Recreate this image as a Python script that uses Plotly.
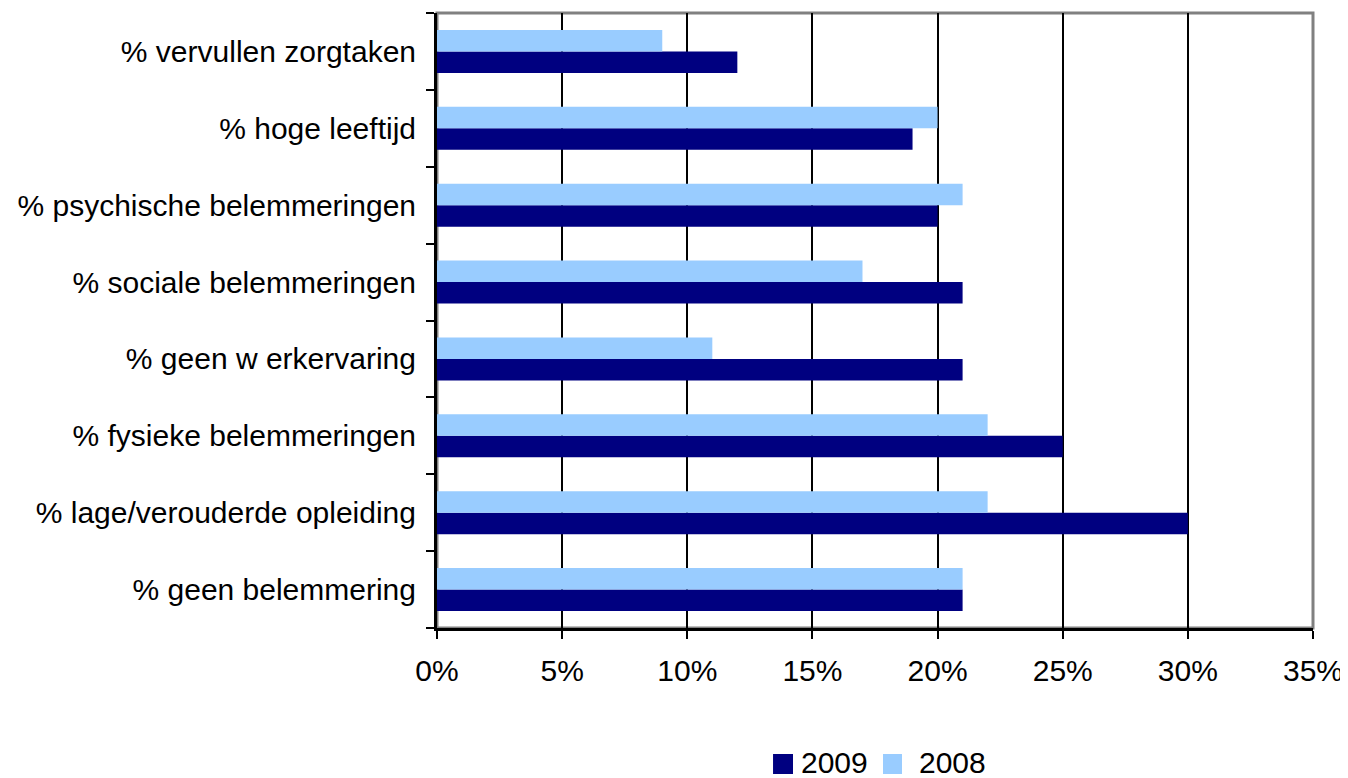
import plotly.graph_objects as go

categories = [
    "% geen belemmering",
    "% lage/verouderde opleiding",
    "% fysieke belemmeringen",
    "% geen w erkervaring",
    "% sociale belemmeringen",
    "% psychische belemmeringen",
    "% hoge leeftijd",
    "% vervullen zorgtaken",
]
values_2009 = [21, 30, 25, 21, 21, 20, 19, 12]
values_2008 = [21, 22, 22, 11, 17, 21, 20, 9]
x_ticks = [0, 5, 10, 15, 20, 25, 30, 35]
x_tick_labels = [f"{v}%" for v in x_ticks]
legend_names = ["2009", "2008"]

FONT = "Liberation Sans, Arial, sans-serif"
C2009 = "#000080"
C2008 = "#99CCFF"

fig = go.Figure()
fig.add_trace(go.Bar(y=categories, x=values_2009, name=legend_names[0], orientation="h",
                     marker=dict(color=C2009, line=dict(width=0)), showlegend=False))
fig.add_trace(go.Bar(y=categories, x=values_2008, name=legend_names[1], orientation="h",
                     marker=dict(color=C2008, line=dict(width=0)), showlegend=False))

# custom legend (square swatches + labels) in paper coordinates
legend_sq = [(0.3836, 0.4064), (0.5091, 0.5308)]
legend_tx = [0.4132, 0.5479]
shapes = [dict(type="rect", xref="paper", yref="paper", x0=0, x1=1, y0=0, y1=1,
               line=dict(color="#808080", width=3), layer="below")]
annotations = []
for (x0, x1), tx, name, col in zip(legend_sq, legend_tx, legend_names, [C2009, C2008]):
    shapes.append(dict(type="rect", xref="paper", yref="paper", x0=x0, x1=x1,
                       y0=-0.2374, y1=-0.2049, fillcolor=col, line=dict(width=0)))
    annotations.append(dict(text=name, xref="paper", yref="paper", x=tx, y=-0.2195,
                            xanchor="left", yanchor="middle", showarrow=False,
                            font=dict(size=30, family=FONT, color="black")))

fig.update_layout(
    width=1340, height=770,
    margin=dict(l=429, r=35, t=5, b=150, autoexpand=False),
    paper_bgcolor="white", plot_bgcolor="white",
    barmode="group", bargap=0.44, bargroupgap=0,
    font=dict(family=FONT, size=30, color="black"),
    showlegend=False,
    shapes=shapes,
    annotations=annotations,
)
fig.update_xaxes(
    range=[0, 35], tickvals=x_ticks, ticktext=x_tick_labels,
    showgrid=True, gridcolor="black", gridwidth=2,
    showline=True, linecolor="black", linewidth=3,
    ticks="outside", ticklen=8, tickcolor="black", tickwidth=2,
    zeroline=False, fixedrange=True, ticklabelstandoff=6,
    ticklabeloverflow="allow",
)
fig.update_yaxes(
    categoryorder="array", categoryarray=categories,
    showgrid=False, showline=True, linecolor="black", linewidth=3,
    ticks="outside", tickson="boundaries", ticklen=8, tickcolor="black", tickwidth=2,
    ticklabelstandoff=12, fixedrange=True,
)

fig.write_html("out.html")
